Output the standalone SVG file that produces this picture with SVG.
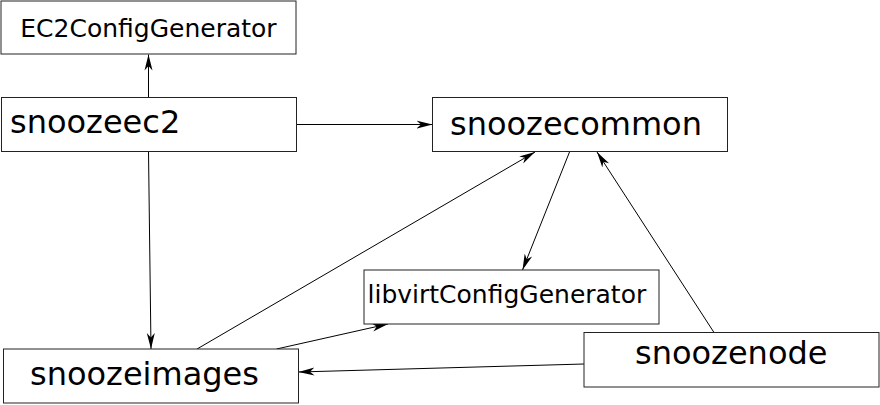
<svg xmlns="http://www.w3.org/2000/svg" width="880" height="405" viewBox="0 0 880 405">
<style>
.box{fill:#fff;stroke:#222;stroke-width:1}
.lbl{font-family:"DejaVu Sans",sans-serif;fill:#000}
.big{font-size:32px}
.small{font-size:25px}
.edge{stroke:#000;stroke-width:1;fill:none;marker-end:url(#arr)}
</style>
<defs>
<marker id="arr" viewBox="-16 -5 16 10" refX="0" refY="0" markerWidth="16" markerHeight="10" markerUnits="userSpaceOnUse" orient="auto">
<path d="M0,0 L-16,-4 L-11.5,0 L-16,4 Z" fill="#000"/>
</marker>
</defs>
<rect width="880" height="405" fill="#fff"/>
<g id="connectors">
<line class="edge" x1="148.5" y1="97.5" x2="148.5" y2="54.5"/>
<line class="edge" x1="296.5" y1="124.5" x2="432.5" y2="124.5"/>
<line class="edge" x1="148.5" y1="151.5" x2="151" y2="349"/>
<line class="edge" x1="197" y1="349" x2="535" y2="152"/>
<line class="edge" x1="276.5" y1="349" x2="388" y2="324"/>
<line class="edge" x1="569.5" y1="152" x2="522.5" y2="270"/>
<line class="edge" x1="714" y1="332.5" x2="597" y2="152"/>
<line class="edge" x1="584" y1="364" x2="298.5" y2="372"/>
</g>
<g id="EC2ConfigGenerator">
<rect class="box" x="1" y="1" width="295" height="53"/>
<text class="lbl small" x="148.5" y="37" text-anchor="middle">EC2ConfigGenerator</text>
</g>
<g id="snoozeec2">
<rect class="box" x="1.5" y="97.5" width="295" height="54"/>
<text class="lbl big" x="10" y="133">snoozeec2</text>
</g>
<g id="snoozecommon">
<rect class="box" x="432.5" y="97.5" width="295" height="54"/>
<text class="lbl big" x="450" y="135">snoozecommon</text>
</g>
<g id="libvirtConfigGenerator">
<rect class="box" x="364" y="270" width="295" height="54"/>
<text class="lbl small" x="367.5" y="303">libvirtConfigGenerator</text>
</g>
<g id="snoozeimages">
<rect class="box" x="3.5" y="349" width="295" height="54"/>
<text class="lbl big" x="30" y="385">snoozeimages</text>
</g>
<g id="snoozenode">
<rect class="box" x="584" y="332.5" width="295" height="54.5"/>
<text class="lbl big" x="635" y="364">snoozenode</text>
</g>
</svg>
